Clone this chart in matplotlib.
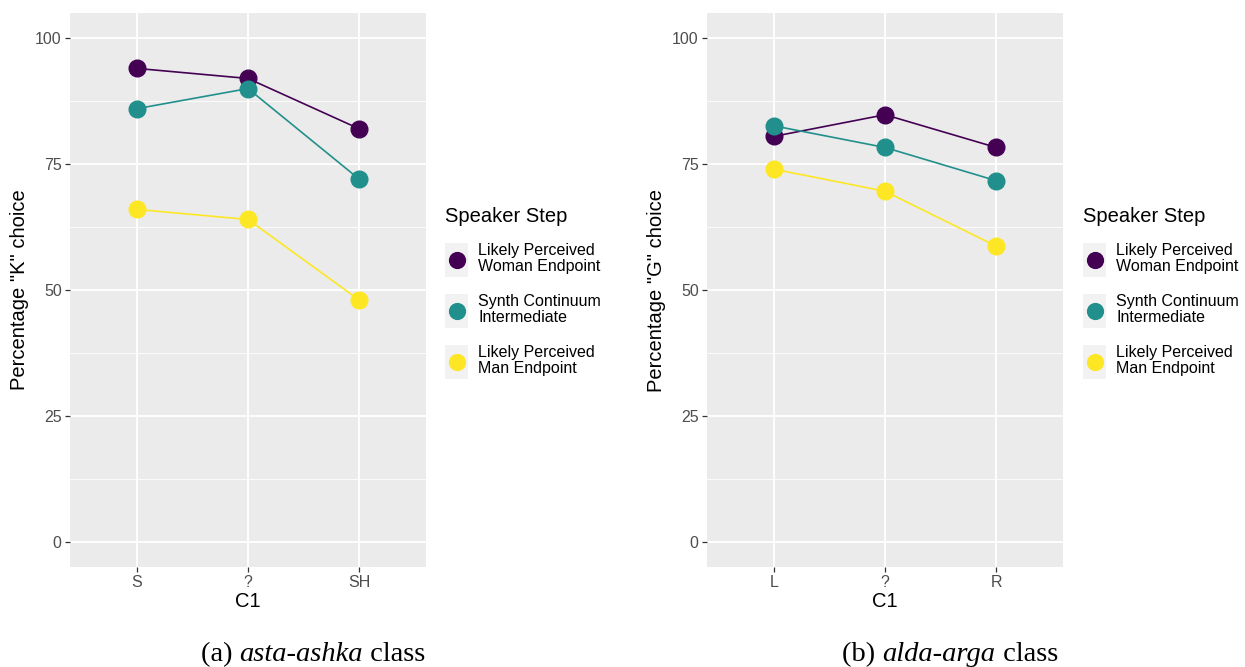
import matplotlib
matplotlib.use("Agg")
import matplotlib.pyplot as plt
from matplotlib.legend_handler import HandlerLine2D
from matplotlib.patches import Rectangle
from matplotlib.lines import Line2D

# ---------------- data ----------------
series_names = ["Likely Perceived\nWoman Endpoint",
                "Synth Continuum\nIntermediate",
                "Likely Perceived\nMan Endpoint"]
series_colors = ["#440154", "#21908C", "#FDE725"]

cats_a = ["S", "?", "SH"]
woman_a = [94, 92, 82]
synth_a = [86, 90, 72]
man_a = [66, 64, 48]

cats_b = ["L", "?", "R"]
woman_b = [80.5, 84.8, 78.3]
synth_b = [82.6, 78.3, 71.7]
man_b = [74.0, 69.6, 58.7]

yticks = [0, 25, 50, 75, 100]
ylabel_a = 'Percentage "K" choice'
ylabel_b = 'Percentage "G" choice'
xlabel = "C1"
legend_title = "Speaker Step"
caption_a = ("(a) ", "asta-ashka", " class")
caption_b = ("(b) ", "alda-arga", " class")

plt.rcParams["font.family"] = ["Liberation Sans", "DejaVu Sans"]

W, H = 1245, 667
DPI = 100
fig = plt.figure(figsize=(W / DPI, H / DPI), dpi=DPI)
fig.patch.set_facecolor("white")

SMALL = 11.5
TITLE = 14.5


class KeyHandler(HandlerLine2D):
    def create_artists(self, legend, orig_handle, xdescent, ydescent,
                       width, height, fontsize, trans):
        rect = Rectangle((-xdescent, -ydescent), width, height,
                         facecolor="#F2F2F2", edgecolor="none", transform=trans)
        mk = Line2D([width / 2 - xdescent], [height / 2 - ydescent],
                    marker="o", markersize=orig_handle.get_markersize() * 0.95,
                    color=orig_handle.get_color(), linestyle="none",
                    transform=trans)
        return [rect, mk]


def panel(left_px, cats, vals, ylabel, leg_x_px):
    ax = fig.add_axes([left_px / W, (H - 567) / H, 356 / W, (567 - 13) / H])
    ax.set_facecolor("#EBEBEB")
    handles = []
    for v, c, n in zip(vals, series_colors, series_names):
        ln, = ax.plot(range(len(cats)), v, color=c, lw=1.2, marker="o",
                      markersize=12, label=n, zorder=3)
        handles.append(ln)
    ax.set_xlim(-0.6, len(cats) - 1 + 0.6)
    ax.set_ylim(-5, 105)
    ax.set_xticks(range(len(cats)))
    ax.set_xticklabels(cats)
    ax.set_yticks(yticks)
    ax.set_yticks([12.5, 37.5, 62.5, 87.5], minor=True)
    ax.grid(which="major", color="white", lw=1.3)
    ax.grid(which="minor", axis="y", color="white", lw=0.6)
    ax.set_axisbelow(True)
    for s in ax.spines.values():
        s.set_visible(False)
    ax.tick_params(which="major", length=3.5, width=0.9, color="#333333",
                   labelcolor="#4D4D4D", labelsize=SMALL, pad=2.5)
    ax.tick_params(which="minor", length=0)
    ax.set_xlabel(xlabel, fontsize=TITLE, labelpad=1, color="black")
    ax.set_ylabel(ylabel, fontsize=TITLE, labelpad=4, color="black")
    leg = ax.legend(handles=handles, title=legend_title,
                    handler_map={Line2D: KeyHandler()},
                    loc="upper left",
                    bbox_to_anchor=(leg_x_px / W, 1 - 207 / H),
                    bbox_transform=fig.transFigure,
                    frameon=False, fontsize=SMALL, title_fontsize=TITLE,
                    handlelength=1.44, handleheight=2.9, handletextpad=0.65,
                    labelspacing=1.06, borderaxespad=0, borderpad=0,
                    alignment="left")
    for t in leg.get_texts():
        t.set_linespacing(1.1)
    return ax


panel(70, cats_a, [woman_a, synth_a, man_a], ylabel_a, 445)
panel(707, cats_b, [woman_b, synth_b, man_b], ylabel_b, 1083)

# captions with mixed italic
renderer = fig.canvas.get_renderer()
cap_font = "Liberation Serif"
cap_size = 20.5


def caption(center_px, parts):
    styles = ["normal", "italic", "normal"]
    widths = []
    for p, st in zip(parts, styles):
        t = fig.text(0, 0, p, fontsize=cap_size, family=cap_font, style=st)
        widths.append(t.get_window_extent(renderer).width)
        t.remove()
    x = center_px - sum(widths) / 2
    for p, st, w in zip(parts, styles, widths):
        fig.text(x / W, 1 - 661 / H, p, fontsize=cap_size, family=cap_font,
                 style=st, va="baseline", ha="left")
        x += w


caption(313, caption_a)
caption(950, caption_b)

fig.savefig("out.png", dpi=DPI)
